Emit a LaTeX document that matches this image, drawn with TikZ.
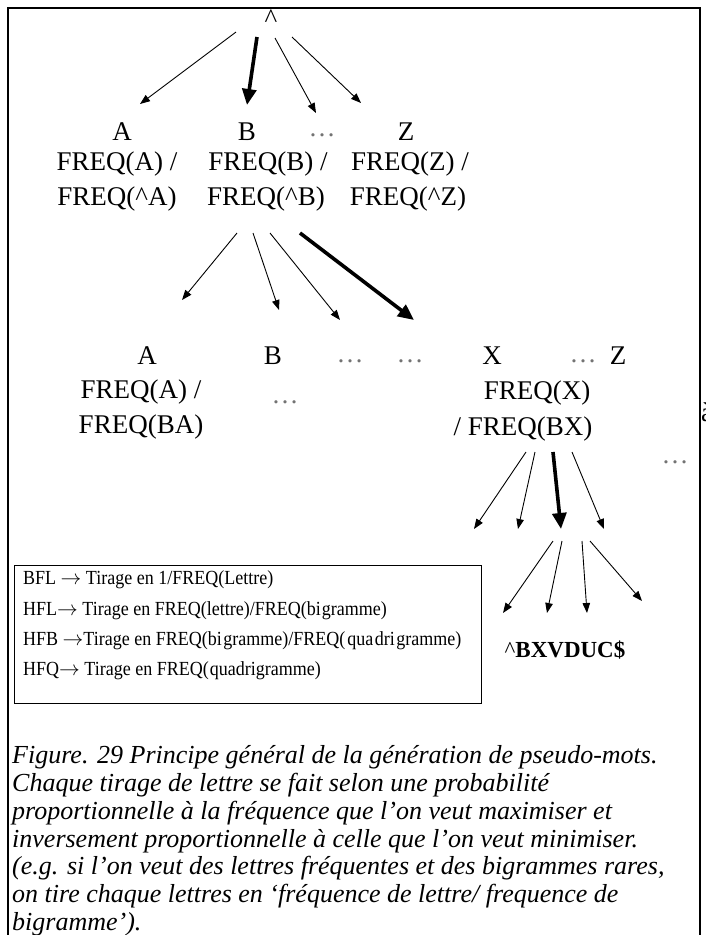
\documentclass[tikz,border=0pt]{standalone}
\usepackage{fontspec}
\setmainfont{Liberation Serif}
\newfontfamily\legendfont[FakeStretch=0.9]{Liberation Serif}
\usetikzlibrary{arrows.meta}

\begin{document}
\begin{tikzpicture}[x=1pt,y=-1pt,
  lbl/.style={inner sep=0pt, font=\fontsize{27}{27}\selectfont},
  dots/.style={inner sep=0pt, text=black!55, font=\fontsize{27}{27}\selectfont},
  legendtxt/.style={inner sep=0pt, anchor=west, font=\legendfont\fontsize{20}{20}\selectfont},
  captxt/.style={inner sep=0pt, anchor=base west, font=\fontsize{26}{26}\selectfont\itshape},
  thinarrow/.style={line width=0.9pt, -{Triangle[length=10pt,width=7.5pt]}},
  boldarrow/.style={line width=3.6pt, -{Triangle[length=16pt,width=14pt]}}]

\useasboundingbox (0,0) rectangle (706,935);

% outer frame, open at the bottom
\draw[line width=1.5pt] (8,940) -- (8,8) -- (700,8) -- (700,940);

% root
\node[lbl] (root) at (271,19) {\textasciicircum};

% first letter choices
\node[lbl] (a1) at (122,132) {A};
\node[lbl] (b1) at (247,132) {B};
\node[dots] (d1) at (322,135) {…};
\node[lbl] (z1) at (406,132) {Z};
\node[lbl] (fa1) at (117,164) {FREQ(A) /};
\node[lbl] (ga1) at (117,199) {FREQ(\textasciicircum A)};
\node[lbl] (fb1) at (268,164) {FREQ(B) /};
\node[lbl] (gb1) at (266,199) {FREQ(\textasciicircum B)};
\node[lbl] (fz1) at (410,164) {FREQ(Z) /};
\node[lbl] (gz1) at (408,199) {FREQ(\textasciicircum Z)};

% arrows from the root
\coordinate (r1) at (236,32);  \coordinate (t1) at (140,104);
\coordinate (r2) at (257,37);  \coordinate (t2) at (247,105);
\coordinate (r3) at (275,38);  \coordinate (t3) at (316,113);
\coordinate (r4) at (292,37);  \coordinate (t4) at (361,103);
\draw[thinarrow] (r1) -- (t1);
\draw[boldarrow] (r2) -- (t2);
\draw[thinarrow] (r3) -- (t3);
\draw[thinarrow] (r4) -- (t4);

% second letter choices after B
\node[lbl] (a2) at (147,356) {A};
\node[lbl] (b2) at (273,356) {B};
\node[dots] (d2) at (350,361) {…};
\node[dots] (d3) at (410,361) {…};
\node[lbl] (x2) at (492,356) {X};
\node[dots] (d4) at (583,361) {…};
\node[lbl] (z2) at (618,356) {Z};
\node[lbl] (fa2) at (141,392) {FREQ(A) /};
\node[lbl] (ga2) at (141,427) {FREQ(BA)};
\node[dots] (d5) at (285,402) {…};
\node[lbl] (fx2) at (537,393) {FREQ(X)};
\node[lbl] (gx2) at (523,429) {/ FREQ(BX)};
\node[dots] (d6) at (675,462) {…};
\node[lbl, anchor=west] (cut) at (701,412) {à};

\coordinate (s1) at (237,233); \coordinate (u1) at (182,300);
\coordinate (s2) at (253,233); \coordinate (u2) at (279,310);
\coordinate (s3) at (270,233); \coordinate (u3) at (340,320);
\coordinate (s4) at (300,233); \coordinate (u4) at (414,320);
\draw[thinarrow] (s1) -- (u1);
\draw[thinarrow] (s2) -- (u2);
\draw[thinarrow] (s3) -- (u3);
\draw[boldarrow] (s4) -- (u4);

% third letter choices after X
\coordinate (p1) at (526,452); \coordinate (q1) at (474,529);
\coordinate (p2) at (535,452); \coordinate (q2) at (518,529);
\coordinate (p3) at (553,452); \coordinate (q3) at (561,529);
\coordinate (p4) at (572,452); \coordinate (q4) at (604,529);
\draw[thinarrow] (p1) -- (q1);
\draw[thinarrow] (p2) -- (q2);
\draw[boldarrow] (p3) -- (q3);
\draw[thinarrow] (p4) -- (q4);

% further draws
\coordinate (m1) at (553,541); \coordinate (n1) at (503,613);
\coordinate (m2) at (562,541); \coordinate (n2) at (547,613);
\coordinate (m3) at (582,541); \coordinate (n3) at (587,613);
\coordinate (m4) at (590,541); \coordinate (n4) at (642,601);
\draw[thinarrow] (m1) -- (n1);
\draw[thinarrow] (m2) -- (n2);
\draw[thinarrow] (m3) -- (n3);
\draw[thinarrow] (m4) -- (n4);

\node[inner sep=0pt, font=\fontsize{23}{23}\selectfont] (word) at (565,650)
  {\textasciicircum\textbf{BXVDUC\$}};

% legend
\node[draw, line width=0.8pt, inner sep=0pt, anchor=north west,
  minimum width=467pt, minimum height=138pt] (legend) at (14,565) {};
\node[legendtxt] (l1) at (23,580) {BFL $\rightarrow$ Tirage en 1/FREQ(Lettre)};
\node[legendtxt] (l2) at (23,611) {HFL$\rightarrow$ Tirage en FREQ(lettre)/FREQ(bi\kern1pt gramme)};
\node[legendtxt] (l3) at (23,641) {HFB $\rightarrow$Tirage en FREQ(bi\kern1.5pt gramme)/FREQ(\kern2pt qua\kern1.5pt dri\kern1.5pt gramme)};
\node[legendtxt] (l4) at (23,671) {HFQ$\rightarrow$ Tirage en FREQ(\kern1pt quadrigramme)};

% caption
\node[captxt] (c1) at (12,763) {Figure. 29 Principe général de la génération de pseudo-mots.};
\node[captxt] (c2) at (12,791) {Chaque tirage de lettre se fait selon une probabilité};
\node[captxt] (c3) at (12,819) {proportionnelle à la fréquence que l’on veut maximiser et};
\node[captxt] (c4) at (12,847) {inversement proportionnelle à celle que l’on veut minimiser.};
\node[captxt] (c5) at (12,874) {(e.g. si l’on veut des lettres fréquentes et des bigrammes rares,};
\node[captxt] (c6) at (12,902) {on tire chaque lettres en ‘fréquence de lettre/ frequence de};
\node[captxt] (c7) at (12,930) {bigramme’).};
\end{tikzpicture}
\end{document}
